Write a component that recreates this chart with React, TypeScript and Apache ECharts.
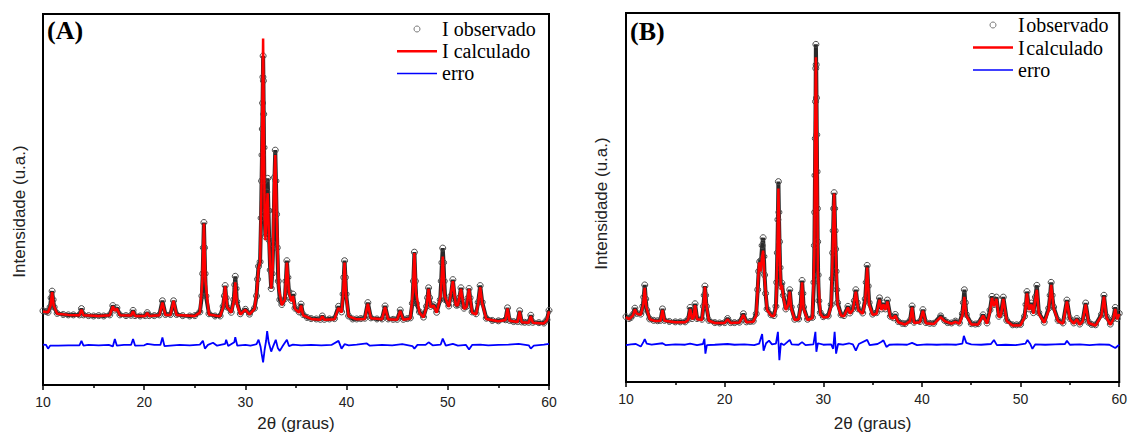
import React, { useEffect, useRef } from "react";
import * as echarts from "echarts";

// ---------- Data (2θ in degrees, intensity in arbitrary units) ----------
const xTickValues = [10, 20, 30, 40, 50, 60];

const obsA: number[][] = [
  [10.0, 20.0], [10.3, 19.8], [10.5, 19.6], [10.7, 21.0], [10.8, 23.5], [10.9, 25.3], [11.0, 23.0], [11.1, 21.0], [11.4, 19.3], [12.0, 19.0],
  [12.5, 18.9], [13.0, 18.9], [13.6, 18.9], [13.8, 20.6], [14.0, 18.9], [14.5, 18.7], [15.0, 18.6], [15.5, 18.7], [16.0, 18.6], [16.6, 18.9],
  [16.9, 21.4], [17.1, 20.2], [17.3, 20.8], [17.6, 18.9], [18.2, 18.7], [18.7, 18.8], [18.9, 20.1], [19.1, 18.7], [19.6, 18.6], [20.1, 18.7],
  [20.3, 19.5], [20.5, 18.7], [21.0, 18.7], [21.5, 18.9], [21.8, 22.7], [22.1, 19.0], [22.6, 19.0], [22.9, 22.7], [23.2, 19.0], [23.8, 18.7],
  [24.5, 18.6], [25.0, 18.7], [25.5, 19.7], [25.7, 24.0], [25.78, 30.0], [25.84, 37.0], [25.9, 43.8], [25.96, 37.0], [26.02, 30.0], [26.1, 24.0],
  [26.4, 19.2], [27.0, 18.6], [27.5, 18.6], [27.8, 21.2], [27.92, 24.0], [28.0, 26.8], [28.1, 23.5], [28.2, 21.0], [28.6, 19.6], [28.85, 23.0],
  [28.95, 27.0], [29.0, 29.3], [29.08, 26.0], [29.15, 22.5], [29.5, 19.2], [30.0, 20.4], [30.4, 19.1], [30.9, 20.7], [31.1, 24.0], [31.2, 28.5],
  [31.3, 32.0], [31.45, 33.2], [31.55, 45.0], [31.6, 55.0], [31.64, 62.0], [31.67, 69.0], [31.7, 76.0], [31.73, 83.0], [31.75, 88.7], [31.78, 82.0],
  [31.81, 73.0], [31.84, 64.0], [31.87, 55.0], [31.9, 46.0], [31.98, 40.0], [32.05, 47.0], [32.12, 52.0], [32.2, 55.7], [32.28, 47.0], [32.35, 39.0],
  [32.45, 31.0], [32.55, 26.0], [32.65, 30.0], [32.75, 38.0], [32.82, 47.0], [32.88, 56.0], [32.95, 63.3], [33.02, 55.0], [33.08, 46.0], [33.15, 37.0],
  [33.25, 28.0], [33.4, 23.0], [33.6, 21.7], [33.9, 23.2], [34.0, 28.0], [34.1, 33.5], [34.2, 29.0], [34.3, 25.2], [34.55, 22.8], [34.7, 24.5],
  [34.9, 20.7], [35.3, 19.7], [35.5, 21.8], [35.7, 19.0], [36.1, 18.2], [36.5, 17.9], [37.0, 17.8], [37.4, 17.7], [37.6, 18.6], [37.8, 17.7],
  [38.3, 17.8], [38.8, 17.9], [39.2, 21.2], [39.5, 19.7], [39.65, 24.5], [39.72, 29.0], [39.8, 33.5], [39.88, 29.0], [39.95, 24.5], [40.2, 18.6],
  [40.6, 17.8], [41.0, 17.8], [41.4, 17.9], [41.8, 18.0], [42.1, 22.2], [42.4, 18.1], [43.0, 17.8], [43.5, 17.8], [43.8, 21.3], [44.1, 17.8],
  [44.6, 17.7], [45.0, 17.7], [45.3, 20.2], [45.6, 17.7], [46.0, 17.9], [46.3, 18.1], [46.5, 22.0], [46.6, 28.0], [46.7, 35.8], [46.8, 28.0],
  [46.9, 22.0], [47.2, 19.7], [47.6, 18.3], [47.9, 21.2], [48.0, 23.5], [48.1, 26.2], [48.2, 23.5], [48.3, 21.2], [48.6, 21.6], [48.9, 19.6],
  [49.25, 23.0], [49.35, 28.0], [49.42, 33.0], [49.5, 36.9], [49.58, 33.0], [49.65, 28.0], [49.75, 23.0], [50.1, 21.3], [50.3, 24.0], [50.5, 28.4],
  [50.7, 23.0], [50.85, 21.5], [51.0, 21.6], [51.15, 23.5], [51.3, 26.2], [51.45, 22.5], [51.6, 20.7], [51.85, 21.2], [52.0, 23.5], [52.1, 26.0],
  [52.2, 23.5], [52.4, 19.7], [52.8, 19.2], [53.0, 22.3], [53.2, 26.8], [53.4, 22.3], [53.8, 18.0], [54.4, 17.4], [55.0, 17.3], [55.7, 17.6],
  [55.9, 20.8], [56.1, 17.4], [56.5, 17.1], [56.9, 17.1], [57.1, 20.0], [57.3, 17.0], [57.6, 16.9], [58.0, 16.9], [58.2, 18.8], [58.4, 16.9],
  [59.0, 16.8], [59.5, 16.7], [59.8, 17.6], [60.0, 20.1],
];

const calcA: number[][] = [
  [10.0, 19.8], [10.5, 19.6], [10.75, 21.5], [10.9, 25.0], [11.05, 21.5], [11.4, 19.2], [12.5, 18.9], [13.6, 18.8], [13.8, 20.3], [14.0, 18.8],
  [15.5, 18.6], [16.6, 18.8], [16.9, 21.2], [17.1, 20.0], [17.3, 20.6], [17.6, 18.8], [18.7, 18.7], [18.9, 19.9], [19.1, 18.6], [20.1, 18.6],
  [20.3, 19.4], [20.5, 18.6], [21.5, 18.8], [21.8, 22.2], [22.1, 18.9], [22.6, 18.9], [22.9, 22.7], [23.2, 18.9], [25.0, 18.6], [25.5, 19.5],
  [25.75, 28.0], [25.9, 43.5], [26.05, 28.0], [26.4, 19.0], [27.5, 18.5], [27.8, 21.0], [28.0, 26.6], [28.2, 21.0], [28.6, 19.5], [28.85, 22.5],
  [29.0, 27.7], [29.15, 22.0], [29.5, 19.0], [30.0, 20.3], [30.4, 19.0], [30.9, 20.5], [31.15, 26.0], [31.3, 31.5], [31.45, 33.0], [31.6, 55.0],
  [31.75, 93.4], [31.9, 45.0], [31.98, 39.0], [32.1, 47.0], [32.2, 51.7], [32.35, 38.0], [32.55, 26.0], [32.7, 32.0], [32.85, 55.0], [32.95, 62.0],
  [33.1, 45.0], [33.3, 26.0], [33.6, 21.5], [33.9, 23.0], [34.1, 33.0], [34.3, 25.0], [34.55, 22.5], [34.7, 24.0], [34.9, 20.5], [35.3, 19.5],
  [35.5, 21.4], [35.7, 18.8], [36.5, 17.8], [37.4, 17.6], [37.6, 18.5], [37.8, 17.6], [38.8, 17.7], [39.2, 20.8], [39.5, 19.5], [39.65, 24.0],
  [39.8, 33.0], [39.95, 24.0], [40.2, 18.5], [41.0, 17.7], [41.8, 17.8], [42.1, 21.9], [42.4, 18.0], [43.5, 17.7], [43.8, 21.0], [44.1, 17.7],
  [45.0, 17.6], [45.3, 20.0], [45.6, 17.6], [46.3, 17.9], [46.55, 25.0], [46.7, 35.6], [46.85, 25.0], [47.2, 19.5], [47.6, 18.2], [47.9, 21.0],
  [48.1, 25.9], [48.3, 21.0], [48.6, 21.4], [48.9, 19.5], [49.3, 24.0], [49.5, 34.6], [49.7, 24.0], [50.1, 21.0], [50.5, 28.0], [50.8, 21.5],
  [51.0, 21.5], [51.3, 25.9], [51.6, 20.5], [51.85, 21.0], [52.1, 25.9], [52.4, 19.5], [52.8, 19.0], [53.0, 22.0], [53.2, 26.4], [53.4, 22.0],
  [53.8, 17.8], [55.0, 17.2], [55.7, 17.5], [55.9, 20.6], [56.1, 17.3], [56.9, 17.0], [57.1, 19.8], [57.3, 16.9], [58.0, 16.8], [58.2, 18.6],
  [58.4, 16.8], [59.5, 16.6], [59.8, 17.5], [60.0, 19.9],
];

const errA: number[][] = [
  [10.0, 10.9], [10.3, 10.8], [10.5, 9.8], [10.7, 10.6], [11.5, 10.6], [12.5, 10.7], [13.6, 10.7], [13.8, 11.9], [14.0, 10.6], [14.5, 10.8],
  [15.5, 10.7], [16.5, 10.8], [16.9, 10.4], [17.1, 12.4], [17.3, 10.6], [18.0, 10.8], [18.7, 10.8], [18.9, 12.4], [19.1, 10.6], [20.0, 10.7],
  [20.3, 11.1], [21.0, 10.8], [21.6, 10.8], [21.8, 12.8], [22.0, 10.5], [22.9, 10.7], [23.5, 10.8], [24.5, 10.7], [25.5, 10.9], [25.8, 11.9],
  [26.0, 9.8], [26.3, 10.8], [26.8, 11.4], [27.2, 10.6], [28.0, 11.1], [28.1, 12.2], [28.3, 10.5], [28.9, 11.5], [29.0, 12.9], [29.2, 10.6],
  [30.0, 10.8], [30.5, 10.6], [31.1, 11.0], [31.3, 12.2], [31.5, 10.3], [31.6, 8.5], [31.75, 6.1], [31.9, 9.5], [32.05, 12.0], [32.15, 14.5],
  [32.3, 11.5], [32.55, 9.0], [32.75, 10.5], [33.0, 12.2], [33.2, 10.0], [33.4, 9.2], [33.7, 10.6], [34.1, 12.2], [34.3, 10.5], [34.7, 10.9],
  [35.5, 10.7], [36.5, 10.8], [37.5, 10.7], [38.5, 10.8], [39.2, 11.9], [39.5, 9.8], [39.8, 11.0], [40.2, 10.7], [41.0, 10.9], [42.0, 11.2],
  [42.3, 10.6], [43.5, 10.8], [44.5, 10.7], [45.5, 11.0], [46.5, 10.5], [46.7, 9.8], [47.0, 10.8], [47.8, 10.8], [48.1, 11.5], [48.5, 10.7],
  [49.3, 10.9], [49.5, 12.5], [49.8, 10.6], [50.5, 11.1], [51.0, 10.6], [51.8, 10.8], [52.1, 9.6], [52.4, 10.8], [53.2, 10.9], [54.0, 10.7],
  [55.0, 10.8], [56.0, 10.9], [57.0, 11.1], [58.0, 10.7], [58.2, 9.8], [58.5, 10.6], [59.5, 10.9], [60.0, 11.1],
];

const obsB: number[][] = [
  [10.0, 17.7], [10.3, 17.2], [10.5, 17.5], [10.7, 18.3], [10.9, 20.0], [11.1, 18.6], [11.5, 18.4], [11.7, 20.5], [11.8, 23.0], [11.9, 26.3],
  [12.0, 22.5], [12.1, 19.5], [12.4, 17.1], [12.8, 16.7], [13.2, 16.6], [13.5, 16.7], [13.7, 19.8], [13.9, 16.7], [14.4, 16.4], [15.0, 16.3],
  [15.5, 16.3], [16.0, 16.3], [16.3, 17.0], [16.5, 20.2], [16.7, 17.2], [16.85, 17.8], [17.0, 21.2], [17.2, 17.2], [17.7, 17.0], [17.85, 20.5],
  [17.93, 23.5], [18.0, 26.0], [18.07, 23.5], [18.15, 20.5], [18.4, 16.7], [19.0, 16.1], [19.5, 16.0], [20.0, 16.1], [20.3, 17.2], [20.6, 16.1],
  [21.0, 16.1], [21.5, 16.2], [21.9, 18.5], [22.2, 16.3], [22.6, 16.4], [22.9, 16.5], [23.2, 18.5], [23.35, 25.0], [23.45, 30.0], [23.55, 32.6],
  [23.7, 33.0], [23.8, 37.0], [23.9, 39.1], [23.98, 34.0], [24.05, 29.0], [24.15, 24.0], [24.3, 19.8], [24.7, 18.2], [25.0, 18.0], [25.2, 20.5],
  [25.28, 27.0], [25.34, 35.0], [25.4, 44.0], [25.45, 54.3], [25.5, 46.0], [25.56, 38.0], [25.62, 31.0], [25.7, 26.0], [25.8, 26.8], [25.95, 23.5],
  [26.2, 19.8], [26.45, 21.5], [26.6, 25.0], [26.75, 20.3], [27.1, 17.0], [27.5, 17.1], [27.7, 20.5], [27.78, 24.0], [27.85, 27.5], [27.93, 24.0],
  [28.0, 20.3], [28.4, 17.0], [28.9, 17.5], [29.05, 27.0], [29.1, 37.0], [29.13, 46.0], [29.16, 56.0], [29.19, 66.0], [29.22, 76.0], [29.24, 85.0],
  [29.25, 91.5], [29.28, 86.0], [29.31, 77.0], [29.34, 67.0], [29.37, 57.0], [29.4, 47.0], [29.43, 38.0], [29.48, 29.0], [29.55, 22.0], [29.7, 18.8],
  [30.0, 17.7], [30.5, 17.9], [30.8, 21.0], [30.9, 28.0], [30.95, 35.0], [31.0, 41.0], [31.05, 47.0], [31.1, 51.3], [31.15, 47.0], [31.2, 41.0],
  [31.25, 36.0], [31.3, 30.0], [31.37, 25.0], [31.45, 21.5], [31.8, 18.2], [32.1, 18.0], [32.5, 20.5], [32.7, 18.7], [33.0, 19.8], [33.15, 22.0],
  [33.3, 25.0], [33.45, 21.5], [33.55, 19.8], [34.0, 18.7], [34.25, 22.5], [34.35, 27.0], [34.45, 31.6], [34.55, 26.0], [34.65, 21.5], [35.0, 18.4],
  [35.4, 18.8], [35.7, 22.8], [35.9, 19.8], [36.1, 21.4], [36.3, 19.8], [36.5, 22.2], [36.8, 17.8], [37.1, 17.4], [37.3, 18.3], [37.6, 16.4],
  [38.0, 15.9], [38.3, 15.8], [38.8, 16.7], [39.0, 20.6], [39.2, 16.2], [39.8, 16.4], [40.1, 19.6], [40.4, 16.1], [40.8, 15.9], [41.2, 15.9],
  [41.9, 17.9], [42.3, 16.7], [42.6, 16.1], [43.0, 16.0], [43.4, 16.5], [43.8, 16.0], [44.1, 18.5], [44.2, 21.5], [44.3, 25.0], [44.4, 21.5],
  [44.5, 18.3], [45.0, 15.8], [45.4, 15.7], [45.7, 15.8], [46.2, 18.2], [46.6, 16.0], [46.9, 19.5], [47.1, 23.2], [47.3, 21.0], [47.55, 23.0],
  [47.8, 17.8], [48.0, 18.3], [48.25, 23.0], [48.6, 16.7], [49.2, 15.5], [49.6, 15.5], [50.0, 15.6], [50.4, 17.8], [50.55, 21.0], [50.65, 24.5],
  [50.85, 19.8], [51.1, 21.4], [51.3, 18.8], [51.5, 23.0], [51.65, 26.2], [51.85, 18.8], [52.4, 16.2], [52.85, 20.0], [53.0, 23.5], [53.1, 27.0],
  [53.2, 23.5], [53.35, 20.3], [53.8, 16.7], [54.3, 16.0], [54.7, 22.2], [55.0, 17.2], [55.4, 16.0], [55.7, 17.2], [56.0, 15.7], [56.3, 16.7],
  [56.6, 21.4], [56.9, 16.2], [57.2, 15.6], [57.6, 15.5], [58.2, 18.3], [58.45, 23.5], [58.7, 17.8], [59.1, 15.7], [59.4, 17.2], [59.6, 20.2],
  [59.8, 17.2], [60.0, 18.6],
];

const calcB: number[][] = [
  [10.0, 17.6], [10.3, 17.0], [10.7, 18.0], [10.9, 19.7], [11.1, 18.5], [11.5, 18.2], [11.75, 21.0], [11.9, 25.5], [12.05, 20.5], [12.4, 17.0],
  [13.0, 16.5], [13.5, 16.6], [13.7, 19.5], [13.9, 16.6], [15.0, 16.2], [16.0, 16.2], [16.3, 16.8], [16.5, 19.8], [16.7, 17.0], [16.85, 17.5],
  [17.0, 20.8], [17.2, 17.0], [17.7, 16.8], [17.88, 21.5], [18.0, 25.8], [18.12, 21.5], [18.4, 16.6], [19.0, 16.0], [20.0, 16.0], [20.3, 17.0],
  [20.6, 16.0], [21.5, 16.1], [21.9, 18.2], [22.2, 16.2], [22.9, 16.3], [23.2, 18.0], [23.4, 28.0], [23.5, 32.4], [23.65, 30.0], [23.8, 34.0],
  [23.9, 35.6], [24.05, 28.0], [24.3, 19.5], [24.7, 18.0], [25.0, 17.8], [25.2, 20.0], [25.35, 35.0], [25.45, 52.4], [25.58, 35.0], [25.7, 25.0],
  [25.8, 26.3], [25.95, 23.0], [26.2, 19.5], [26.45, 21.0], [26.6, 24.5], [26.75, 20.0], [27.1, 16.8], [27.5, 17.0], [27.7, 20.0], [27.85, 27.0],
  [28.0, 20.0], [28.4, 16.8], [28.9, 17.3], [29.1, 35.0], [29.18, 70.0], [29.25, 88.0], [29.35, 65.0], [29.45, 30.0], [29.7, 18.5], [30.0, 17.5],
  [30.5, 17.7], [30.8, 20.5], [30.95, 35.0], [31.1, 51.1], [31.25, 36.0], [31.45, 21.0], [31.8, 18.0], [32.1, 17.8], [32.5, 20.2], [32.7, 18.5],
  [33.0, 19.5], [33.3, 24.5], [33.55, 19.5], [34.0, 18.5], [34.25, 22.0], [34.45, 31.0], [34.65, 21.0], [35.0, 18.2], [35.4, 18.5], [35.7, 22.3],
  [35.9, 19.5], [36.1, 21.0], [36.3, 19.5], [36.5, 21.8], [36.8, 17.5], [37.1, 17.2], [37.3, 18.0], [37.6, 16.2], [38.3, 15.6], [38.8, 16.5],
  [39.0, 20.2], [39.2, 16.0], [39.8, 16.2], [40.1, 19.3], [40.4, 15.9], [41.2, 15.7], [41.9, 17.6], [42.3, 16.5], [43.0, 15.8], [43.4, 16.3],
  [43.8, 15.8], [44.1, 18.0], [44.3, 23.1], [44.5, 18.0], [45.0, 15.6], [45.7, 15.6], [46.2, 18.0], [46.6, 15.8], [46.9, 19.0], [47.1, 22.8],
  [47.3, 20.5], [47.55, 22.5], [47.8, 17.5], [48.0, 18.0], [48.25, 22.5], [48.6, 16.5], [49.2, 15.3], [50.0, 15.4], [50.4, 17.5], [50.65, 24.0],
  [50.85, 19.5], [51.1, 21.0], [51.3, 18.5], [51.5, 22.5], [51.65, 25.0], [51.85, 18.5], [52.4, 16.0], [52.85, 19.5], [53.1, 26.3], [53.35, 20.0],
  [53.8, 16.5], [54.3, 15.8], [54.7, 21.8], [55.0, 17.0], [55.4, 15.8], [55.7, 17.0], [56.0, 15.5], [56.3, 16.5], [56.6, 21.0], [56.9, 16.0],
  [57.6, 15.3], [58.2, 18.0], [58.45, 23.1], [58.7, 17.5], [59.1, 15.5], [59.4, 17.0], [59.6, 19.8], [59.8, 17.0], [60.0, 18.4],
];

const errB: number[][] = [
  [10.0, 10.0], [10.5, 10.2], [11.0, 10.3], [11.5, 9.6], [11.8, 11.0], [11.9, 11.6], [12.1, 10.4], [12.6, 10.1], [13.7, 10.5], [14.0, 10.0],
  [15.0, 10.2], [16.0, 10.1], [16.5, 10.4], [17.2, 10.0], [17.8, 10.3], [17.95, 11.7], [18.05, 7.7], [18.2, 10.0], [19.0, 10.1], [20.3, 10.3],
  [21.0, 10.1], [22.0, 10.2], [23.0, 10.0], [23.5, 10.4], [23.8, 13.0], [23.95, 8.5], [24.2, 10.5], [24.5, 11.2], [24.8, 10.2], [25.2, 10.4],
  [25.4, 13.6], [25.55, 5.9], [25.7, 10.5], [26.0, 10.0], [26.6, 11.4], [26.8, 10.2], [27.5, 10.1], [27.85, 10.8], [28.2, 10.0], [29.0, 10.2],
  [29.2, 13.6], [29.3, 8.2], [29.45, 10.5], [30.0, 10.1], [30.8, 10.2], [31.0, 9.0], [31.15, 13.6], [31.3, 7.7], [31.5, 10.3], [32.0, 10.1],
  [32.6, 10.5], [33.0, 10.2], [33.3, 8.5], [33.6, 10.3], [34.45, 11.4], [34.7, 10.0], [35.5, 10.3], [35.9, 10.9], [36.1, 11.3], [36.4, 9.5],
  [36.7, 10.1], [37.5, 10.2], [38.5, 10.1], [39.0, 10.6], [39.5, 10.0], [40.5, 10.2], [41.5, 10.1], [42.5, 10.2], [43.5, 10.1], [44.1, 10.4],
  [44.25, 12.5], [44.5, 10.6], [45.0, 10.2], [46.0, 10.1], [47.0, 10.3], [47.3, 11.4], [47.6, 10.0], [48.5, 10.1], [49.5, 10.0], [50.5, 10.4],
  [50.7, 11.4], [51.0, 10.2], [51.2, 9.0], [51.5, 10.2], [52.5, 10.1], [53.5, 10.2], [54.5, 10.3], [54.7, 11.2], [55.0, 10.1], [56.0, 10.2],
  [57.0, 10.0], [58.0, 10.2], [59.0, 10.1], [59.6, 9.2], [60.0, 10.1],
];

const panelLabels = ["(A)", "(B)"];
const seriesNames = ["I observado", "I calculado", "erro"];

// ---------- Styling ----------
const SERIF = '"Liberation Serif", "Times New Roman", serif';
const SANS = '"Liberation Sans", Arial, sans-serif';

function buildOption() {
  const grids = [
    { left: 43, top: 14, width: 506, height: 382 },
    { left: 626, top: 13, width: 495, height: 379 },
  ];
  const nameGapsX = [30, 33];
  const yNameGaps = [15, 16];
  const yNamePad = [24, 12];

  const xAxis = grids.map((_, i) => ({
    gridIndex: i,
    type: "value",
    min: xTickValues[0],
    max: xTickValues[xTickValues.length - 1],
    interval: 10,
    name: "2θ (graus)",
    nameLocation: "middle",
    nameGap: nameGapsX[i],
    nameTextStyle: { fontFamily: SANS, fontSize: 17, color: "#222" },
    axisLine: { show: true, onZero: false, lineStyle: { color: "#000", width: 2 } },
    axisTick: { show: true, inside: false, length: 5, lineStyle: { color: "#000", width: 1.5 } },
    minorTick: { show: true, splitNumber: 2, length: 3, lineStyle: { color: "#000", width: 1.5 } },
    axisLabel: { fontFamily: SANS, fontSize: 14, color: "#222", margin: 10 },
    splitLine: { show: false },
    minorSplitLine: { show: false },
  }));

  const yAxis = grids.map((_, i) => ({
    gridIndex: i,
    type: "value",
    min: 0,
    max: 100,
    name: "Intensidade (u.a.)",
    nameLocation: "middle",
    nameGap: yNameGaps[i],
    nameRotate: 90,
    nameTextStyle: {
      fontFamily: SANS,
      fontSize: 17,
      color: "#222",
      padding: [0, yNamePad[i], 0, 0],
    },
    axisLine: { show: true, onZero: false, lineStyle: { color: "#000", width: 2 } },
    axisTick: { show: false },
    axisLabel: { show: false },
    splitLine: { show: false },
  }));

  const panels = [
    { obs: obsA, calc: calcA, err: errA },
    { obs: obsB, calc: calcB, err: errB },
  ];

  const series: any[] = [];
  panels.forEach((p, i) => {
    series.push({
      name: seriesNames[0],
      type: "line",
      xAxisIndex: i,
      yAxisIndex: i,
      data: p.obs,
      symbol: "circle",
      symbolSize: 6,
      showSymbol: true,
      showAllSymbol: true,
      color: "#666",
      itemStyle: { color: "rgba(255,255,255,0)", borderColor: "#4a4a4a", borderWidth: 1 },
      lineStyle: { color: "#2a2a2a", width: 4 },
      z: 2,
      silent: true,
    });
    series.push({
      name: seriesNames[1],
      type: "line",
      xAxisIndex: i,
      yAxisIndex: i,
      data: p.calc,
      symbol: "none",
      showSymbol: false,
      color: "#ff0000",
      itemStyle: { color: "#ff0000" },
      lineStyle: { color: "#ff0000", width: 2.5 },
      z: 3,
      silent: true,
    });
    series.push({
      name: seriesNames[2],
      type: "line",
      xAxisIndex: i,
      yAxisIndex: i,
      data: p.err,
      symbol: "none",
      showSymbol: false,
      color: "#0000ff",
      itemStyle: { color: "#0000ff" },
      lineStyle: { color: "#0000ff", width: 1.8 },
      z: 3,
      silent: true,
    });
  });

  const legendData = [
    { name: seriesNames[0], icon: "circle", itemStyle: { color: "#fff", borderColor: "#777", borderWidth: 1 } },
    { name: seriesNames[1], icon: "path://M0,0H16V1H0Z" },
    { name: seriesNames[2], icon: "path://M0,0H27V1H0Z" },
  ];

  const legend = [
    {
      orient: "vertical",
      left: 397,
      top: 19,
      padding: 0,
      itemWidth: 40,
      itemHeight: 6,
      itemGap: 2.2,
      selectedMode: false,
      textStyle: { fontFamily: SERIF, fontSize: 20, color: "#000" },
      data: legendData,
    },
    {
      orient: "vertical",
      left: 973,
      top: 15,
      padding: 0,
      itemWidth: 40,
      itemHeight: 6,
      itemGap: 2.5,
      selectedMode: false,
      formatter: (n: string) => n.replace("I ", "I\u200a"),
      textStyle: { fontFamily: SERIF, fontSize: 20, color: "#000" },
      data: legendData,
    },
  ];

  const graphic = [
    {
      type: "text",
      left: 47,
      top: 17,
      style: { text: panelLabels[0], font: `bold 26px ${SERIF}`, fill: "#000" },
    },
    {
      type: "text",
      left: 630,
      top: 18,
      style: { text: panelLabels[1], font: `bold 26px ${SERIF}`, fill: "#000" },
    },
  ];

  return {
    animation: false,
    backgroundColor: "#fff",
    grid: grids.map((g) => ({ ...g, show: true, borderColor: "#000", borderWidth: 2, backgroundColor: "transparent" })),
    xAxis,
    yAxis,
    legend,
    graphic,
    series,
  };
}

export default function App() {
  const ref = useRef<HTMLDivElement>(null);
  useEffect(() => {
    if (!ref.current) return;
    const chart = echarts.init(ref.current, null, { renderer: "svg" });
    chart.setOption(buildOption() as any);
    return () => chart.dispose();
  }, []);
  return (
    <div
      ref={ref}
      style={{ position: "fixed", left: 0, top: 0, width: 1130, height: 437, background: "#fff" }}
    />
  );
}
